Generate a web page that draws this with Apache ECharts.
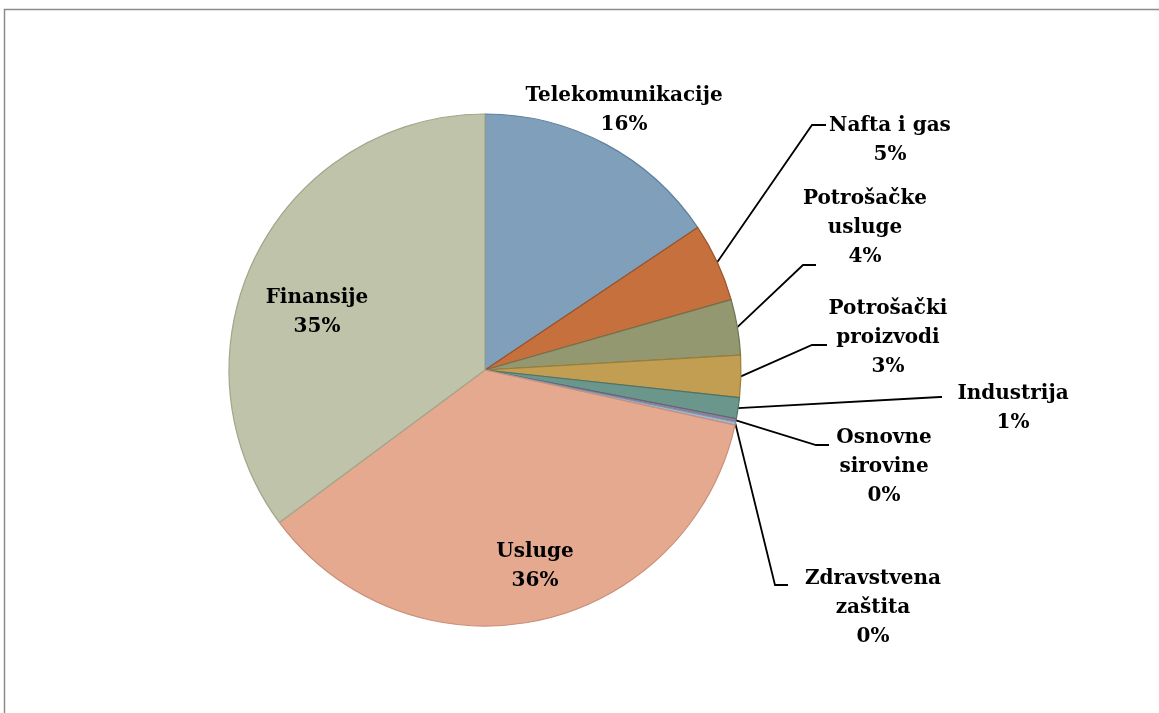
<!DOCTYPE html>
<html>
<head>
<meta charset="utf-8">
<script src="https://cdn.jsdelivr.net/npm/echarts@6/dist/echarts.min.js"></script>
<style>
html,body{margin:0;padding:0;background:#fff;}
#chart{width:1159px;height:713px;}
</style>
</head>
<body>
<div id="chart"></div>
<script>
// ---- data ----
var categories = ['Telekomunikacije', 'Nafta i gas', 'Potrošačke usluge', 'Potrošački proizvodi', 'Industrija', 'Osnovne sirovine', 'Zdravstvena zaštita', 'Usluge', 'Finansije'];
var values = [15.6, 4.97, 3.5, 2.65, 1.33, 0.2, 0.2, 36.4, 35.15];

// ---- styling ----
var colors = ['#809FBB', '#C6713D', '#939870', '#C29E53', '#6A968B', '#8E8399', '#A5B8CF', '#E4A98F', '#BFC3A9'];
var borders = ['#5F7F9C', '#9C5226', '#6F7450', '#9C7D36', '#4C7469', '#6B5F75', '#8094AC', '#C8907A', '#A2A68A'];
// label placement: [centerX, centerY, bendX, bendY, endX, endY] (null bend => no leader line)
var labelPlace = [
  [624, 110, null],
  [890, 140, 812, 125, 826, 125],
  [865, 228, 803, 265, 816, 265],
  [888, 338, 812, 345, 827, 345],
  [1013, 408, 940, 397, 942, 397],
  [884, 467, 816, 445, 829, 445],
  [873, 608, 775, 585, 788, 585],
  [535, 566, null],
  [317, 312, null]
];

var seriesData = categories.map(function (c, i) {
  var inside = labelPlace[i][2] === null;
  return {
    name: c,
    value: values[i],
    itemStyle: { color: colors[i], borderColor: borders[i], borderWidth: 1.2 },
    labelLine: { show: !inside }
  };
});

function wrapName(n) {
  if (n === 'Nafta i gas') return n;
  return n.split(' ').join('\n');
}

var chart = echarts.init(document.getElementById('chart'), null, { renderer: 'canvas' });
chart.setOption({
  animation: false,
  backgroundColor: '#ffffff',
  graphic: [{
    type: 'rect',
    shape: { x: 4.5, y: 9.5, width: 1200, height: 800 },
    style: { fill: 'none', stroke: '#8C8C8C', lineWidth: 1.5 },
    z: 0
  }],
  series: [{
    type: 'pie',
    center: [485, 370],
    radius: 256,
    startAngle: 90,
    clockwise: true,
    avoidLabelOverlap: false,
    data: seriesData,
    label: {
      show: true,
      position: 'outside',
      formatter: function (p) { return wrapName(p.name) + '\n' + Math.round(p.value) + '%'; },
      fontFamily: 'DejaVu Serif',
      fontWeight: 'bold',
      fontSize: 20,
      lineHeight: 29,
      color: '#000',
      align: 'center'
    },
    labelLine: {
      show: true,
      length: 10,
      length2: 10,
      lineStyle: { color: '#000', width: 1.8 }
    },
    emphasis: { disabled: true },
    labelLayout: function (params) {
      var lp = labelPlace[params.dataIndex];
      var res = { x: lp[0], y: lp[1], align: 'center', verticalAlign: 'middle', hideOverlap: false, moveOverlap: false };
      if (lp[2] !== null && params.labelLinePoints) {
        var s = params.labelLinePoints[0];
        res.labelLinePoints = [[s[0], s[1]], [lp[2], lp[3]], [lp[4], lp[5]]];
      }
      return res;
    }
  }]
});
</script>
</body>
</html>
